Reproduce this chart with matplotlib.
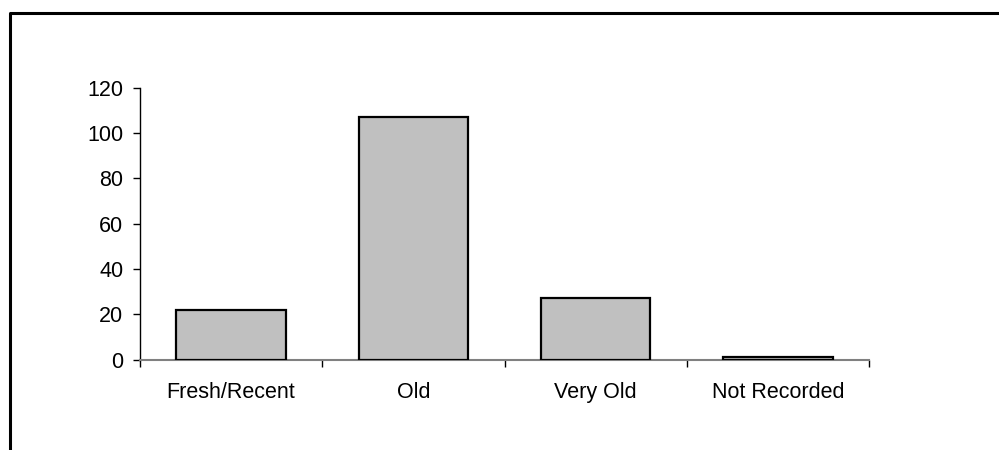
import matplotlib.pyplot as plt
from matplotlib.lines import Line2D

plt.rcParams['font.family'] = ['Liberation Sans', 'DejaVu Sans']

categories = ['Fresh/Recent', 'Old', 'Very Old', 'Not Recorded']
counts = [22, 107, 27, 1]
yticks = [0, 20, 40, 60, 80, 100, 120]

fig = plt.figure(figsize=(9.99, 4.5), dpi=100)
ax = fig.add_axes([140 / 999, (450 - 359.5) / 450, 729 / 999, 272 / 450])

x = range(len(categories))
ax.bar(x, counts, width=0.6, color='#C0C0C0', edgecolor='black', linewidth=1.6, zorder=3)

ax.set_xlim(-0.5, len(categories) - 0.5)
ax.set_ylim(0, 120)
ax.set_yticks(yticks)
ax.set_xticks(x)
ax.set_xticklabels(categories)
# ticks on category boundaries, labels at centres
ax.set_xticks([i - 0.5 for i in range(len(categories) + 1)], minor=True)
ax.tick_params(axis='x', which='major', length=0, pad=16, labelsize=15.5)
ax.tick_params(axis='x', which='minor', length=5, width=1, direction='out')
ax.tick_params(axis='y', length=5, width=1, direction='out', pad=7, labelsize=15.5)

for s in ['top', 'right']:
    ax.spines[s].set_visible(False)
ax.spines['left'].set_linewidth(1)
ax.spines['bottom'].set_color('#808080')
ax.spines['bottom'].set_linewidth(1.5)

# chart area border (bottom edge runs off the page)
fx0, fy0 = 9.5 / 999, 1 - 13 / 450
fig.add_artist(Line2D([fx0, fx0, 1.01], [-0.01, fy0, fy0], color='black', linewidth=2.2,
                      transform=fig.transFigure))

fig.savefig('out.png', dpi=100)
